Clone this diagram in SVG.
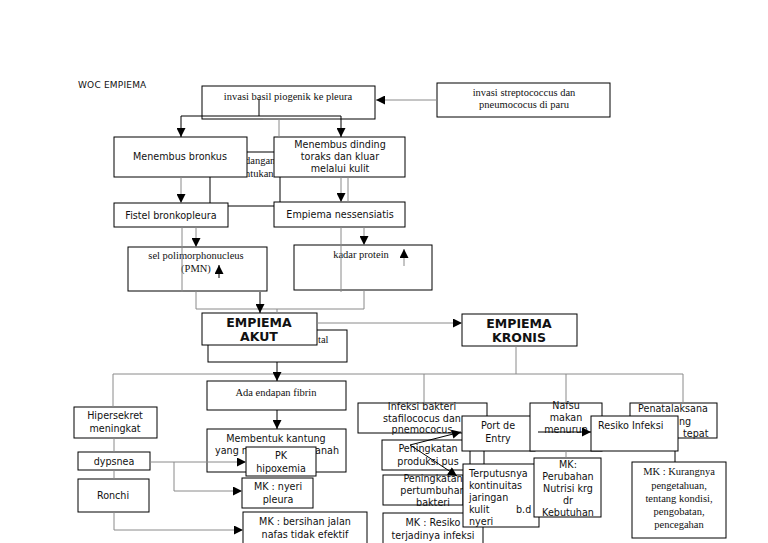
<svg xmlns="http://www.w3.org/2000/svg" width="768" height="543" viewBox="0 0 768 543">
<style>
rect{fill:#fff;stroke:#000;stroke-width:1}
text{font-family:"DejaVu Sans",Verdana,sans-serif;font-size:9.6px;fill:#111;text-anchor:middle}
.s{font-family:"Liberation Serif","Times New Roman",serif;font-size:10.5px}
.bd{font-weight:bold;font-size:12.5px}
.l{text-anchor:start}
.e{text-anchor:end}
.g{stroke:#8a8a8a;stroke-width:1;fill:none}
.k{stroke:#000;stroke-width:1;fill:none}
</style>
<defs>
<marker id="a" viewBox="0 0 10 10" refX="10" refY="5" markerWidth="10" markerHeight="9" markerUnits="userSpaceOnUse" orient="auto"><path d="M0,0L10,5L0,10z" fill="#000"/></marker>
</defs>
<text class="l" x="78" y="88" style="font-size:9px;letter-spacing:0.2px">WOC EMPIEMA</text>
<g id="nodes">
<g id="n_invasi"><rect x="202" y="86" width="173" height="33"/><text class="s" x="288" y="100">invasi basil piogenik ke pleura</text></g>
<g id="n_strep"><rect x="437" y="83" width="173" height="34"/><text class="s" x="524" y="96">invasi streptococcus dan</text><text class="s" x="524" y="108">pneumococus di paru</text></g>
<g id="n_hidden"><rect x="210" y="152" width="70" height="54"/><text class="s l" x="245" y="164">dangan</text><text class="s l" x="245" y="177">ntukan</text></g>
<g id="n_bronkus"><rect x="114" y="137" width="133" height="40"/><text x="180" y="160">Menembus bronkus</text></g>
<g id="n_dinding"><rect x="274" y="137" width="131" height="40"/><text x="340" y="148">Menembus dinding</text><text x="340" y="160">toraks dan kluar</text><text x="340" y="172">melalui kulit</text></g>
<g id="n_fistel"><rect x="114" y="203" width="114" height="24"/><text x="171" y="219">Fistel bronkopleura</text></g>
<g id="n_nessen"><rect x="274" y="202" width="131" height="25"/><text x="340" y="218">Empiema nessensiatis</text></g>
<g id="n_pmn"><rect x="128" y="247" width="139" height="44"/><text class="s" x="196" y="259">sel polimorphonucleus</text><text class="s" x="196" y="272">(PMN)</text></g>
<g id="n_protein"><rect x="294" y="245" width="138" height="45"/><text class="s" x="361" y="258">kadar protein</text></g>
<g id="n_tal"><rect x="208" y="330" width="139" height="32"/><text class="s l" x="318" y="343">tal</text></g>
<g id="n_akut"><rect x="202" y="313" width="115" height="32"/><text class="bd" x="259" y="327">EMPIEMA</text><text class="bd" x="259" y="341">AKUT</text></g>
<g id="n_kronis"><rect x="462" y="314" width="115" height="32"/><text class="bd" x="519" y="328">EMPIEMA</text><text class="bd" x="519" y="342">KRONIS</text></g>
<g id="n_fibrin"><rect x="207" y="381" width="139" height="29"/><text class="s" x="276" y="396">Ada endapan fibrin</text></g>
<g id="n_kantung"><rect x="207" y="429" width="139" height="43"/><text x="276" y="442">Membentuk kantung</text><text class="l" x="215" y="454">yang m</text><text class="e" x="339" y="454">nanah</text></g>
<g id="n_hiper"><rect x="74" y="407" width="83" height="31"/><text x="115" y="419">Hipersekret</text><text x="115" y="432">meningkat</text></g>
<g id="n_dypsnea"><rect x="78" y="452" width="72" height="18"/><text x="114" y="465">dypsnea</text></g>
<g id="n_ronchi"><rect x="78" y="479" width="71" height="33"/><text x="113" y="499">Ronchi</text></g>
<g id="n_pk"><rect x="246" y="447" width="70" height="29"/><text x="281" y="459">PK</text><text x="281" y="472">hipoxemia</text></g>
<g id="n_nyeri"><rect x="242" y="478" width="71" height="30"/><text x="278" y="490">MK : nyeri</text><text x="278" y="503">pleura</text></g>
<g id="n_bersihan"><rect x="243" y="512" width="124" height="40"/><text x="305" y="525">MK : bersihan jalan</text><text x="305" y="538">nafas tidak efektif</text></g>
<g id="n_infeksi"><rect x="358" y="403" width="129" height="30"/><text x="422" y="410">Infeksi bakteri</text><text x="422" y="422">stafilococus dan</text><text x="422" y="433">pnemococus</text></g>
<g id="n_pus"><rect x="382" y="440" width="88" height="30"/><text x="428" y="452">Peningkatan</text><text x="428" y="465">produksi pus</text></g>
<g id="n_tumbuh"><rect x="383" y="475" width="80" height="30"/><text x="433" y="482">Peningkatan</text><text x="433" y="494">pertumbuhan</text><text x="433" y="506">bakteri</text></g>
<g id="n_mkinfeksi"><rect x="383" y="513" width="100" height="40"/><text x="433" y="526">MK : Resiko</text><text x="433" y="539">terjadinya infeksi</text></g>
<g id="n_port"><rect x="462" y="416" width="73" height="35"/><text x="498" y="429">Port de</text><text x="498" y="442">Entry</text></g>
<g id="n_terput"><rect x="463" y="464" width="76" height="63"/><text class="l" x="469" y="477">Terputusnya</text><text class="l" x="469" y="489">kontinuitas</text><text class="l" x="469" y="501">jaringan</text><text class="l" x="469" y="513">kulit</text><text class="l" x="516" y="513">b.d</text><text class="l" x="469" y="525">nyeri</text></g>
<g id="n_nafsu"><rect x="530" y="403" width="72" height="48"/><text x="566" y="409">Nafsu</text><text x="566" y="421">makan</text><text x="566" y="433">menurun</text></g>
<g id="n_mkgizi"><rect x="534" y="458" width="67" height="59"/><text x="568" y="468">MK:</text><text x="568" y="480">Perubahan</text><text x="568" y="492">Nutrisi krg</text><text x="568" y="504">dr</text><text x="568" y="516">Kebutuhan</text></g>
<g id="n_pena"><rect x="630" y="403" width="87" height="35"/><text x="673" y="412">Penatalaksana</text><text class="l" x="679" y="425">ng</text><text class="l" x="683" y="437">tepat</text></g>
<g id="n_resiko"><rect x="591" y="416" width="87" height="35"/><text class="l" x="598" y="429">Resiko Infeksi</text></g>
<g id="n_mkkurang"><rect x="632" y="462" width="94" height="76"/><text class="s" x="679" y="475">MK : Kurangnya</text><text class="s" x="679" y="489">pengetahuan,</text><text class="s" x="679" y="502">tentang kondisi,</text><text class="s" x="679" y="515">pengobatan,</text><text class="s" x="679" y="528">pencegahan</text></g>
</g>
<g id="connectors">
<path class="g" d="M437,100H376" marker-end="url(#a)"/>
<path class="k" d="M259,99V116M181,116H341"/>
<path class="k" d="M181,116V137" marker-end="url(#a)"/>
<path class="k" d="M341,116V137" marker-end="url(#a)"/>
<path class="g" d="M263,119H340M279,119V137"/>
<path class="g" d="M181,177V203" marker-end="url(#a)"/>
<path class="g" d="M341,177V202" marker-end="url(#a)"/>
<path class="g" d="M348,177V202"/>
<path class="g" d="M196,227V247" marker-end="url(#a)"/>
<path class="g" d="M364,227V245" marker-end="url(#a)"/>
<path class="g" d="M182,227V292M341,227V292"/>
<path class="k" d="M219,278V265" marker-end="url(#a)"/>
<path class="g" d="M404,266V249" marker-end="url(#a)"/>
<path class="g" d="M196,291V309H364V290M277,309V313"/>
<path class="k" d="M260,292V313" marker-end="url(#a)"/>
<path class="g" d="M317,323H462" marker-end="url(#a)"/>
<path class="g" d="M516,346V374M113,374H683M113,374V407M424,374V403M566,374V403M683,374V403"/>
<path class="k" d="M277,362V381" marker-end="url(#a)"/>
<path class="k" d="M277,410V429" marker-end="url(#a)"/>
<path class="g" d="M114,438V452M114,470V479"/>
<path class="g" d="M150,462H246" marker-end="url(#a)"/>
<path class="g" d="M174,462V491H242" marker-end="url(#a)"/>
<path class="g" d="M114,512V530H243" marker-end="url(#a)"/>
<path class="k" d="M410,445L461,432" marker-end="url(#a)"/>
<path class="k" d="M410,445L457,476" marker-end="url(#a)"/>
<path class="k" d="M484,451V464"/>
<path class="k" d="M538,432H591" marker-end="url(#a)"/>
<path class="g" d="M566,451V458"/>
<path class="k" d="M675,451V462"/>
</g>
</svg>
